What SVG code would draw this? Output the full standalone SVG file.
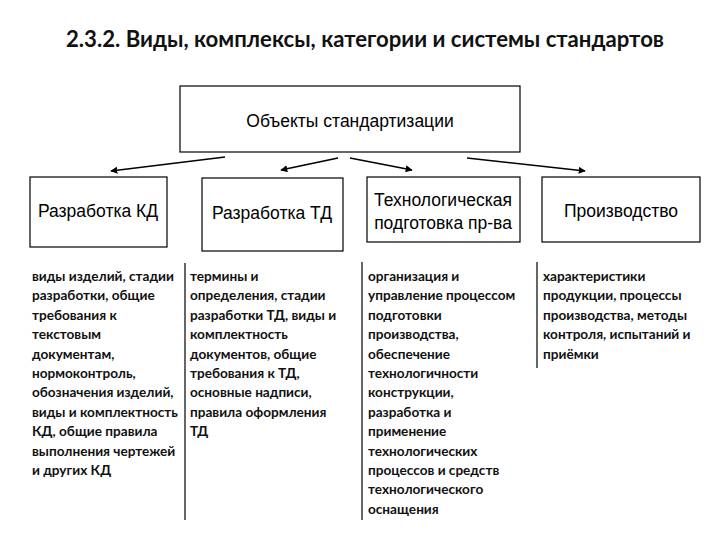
<svg xmlns="http://www.w3.org/2000/svg" width="720" height="540" viewBox="0 0 720 540">
<style>
.title{font-family:"Lato","Open Sans",sans-serif;font-weight:bold;font-size:22px;fill:#111}
.box{fill:#fff;stroke:#000;stroke-width:1.2}
.lbl{font-family:"Liberation Sans",Arial,sans-serif;font-size:17.5px;fill:#000;text-anchor:middle}
.col{font-family:"Lato","Open Sans",sans-serif;font-weight:bold;font-size:13.6px;fill:#111}
.conn{stroke:#000;stroke-width:1.6;fill:none;marker-end:url(#ah)}
.vl{stroke:#000;stroke-width:1.2}
</style>
<defs>
<marker id="ah" viewBox="0 0 10 10" refX="9" refY="5" markerWidth="7" markerHeight="7" markerUnits="userSpaceOnUse" orient="auto">
<path d="M0,0 L10,5 L0,10 Z" fill="#000"/>
</marker>
</defs>
<rect width="720" height="540" fill="#fff"/>
<text class="title" x="365" y="47" text-anchor="middle" textLength="598" lengthAdjust="spacingAndGlyphs">2.3.2. Виды, комплексы, категории и системы стандартов</text>

<g id="objects">
<rect class="box" x="180" y="86" width="340" height="66"/>
<text class="lbl" x="350" y="127">Объекты стандартизации</text>
</g>

<g id="connectors">
<line class="conn" x1="225" y1="157" x2="111" y2="171"/>
<line class="conn" x1="338" y1="158" x2="281" y2="170"/>
<line class="conn" x1="350" y1="158" x2="412" y2="170"/>
<line class="conn" x1="467" y1="158" x2="585" y2="171"/>
</g>

<g id="kd">
<rect class="box" x="30" y="177" width="137" height="70"/>
<text class="lbl" x="98" y="217">Разработка КД</text>
</g>
<g id="td">
<rect class="box" x="202" y="178" width="141" height="73"/>
<text class="lbl" x="272" y="219">Разработка ТД</text>
</g>
<g id="tech">
<rect class="box" x="367" y="177" width="153" height="65"/>
<text class="lbl" x="443" y="206">Технологическая</text>
<text class="lbl" x="443" y="229">подготовка пр-ва</text>
</g>
<g id="prod">
<rect class="box" x="542" y="177" width="158" height="65"/>
<text class="lbl" x="621" y="217">Производство</text>
</g>

<g id="dividers">
<line class="vl" x1="185" y1="263" x2="185" y2="520"/>
<line class="vl" x1="362" y1="262" x2="362" y2="520"/>
<line class="vl" x1="537" y1="262" x2="537" y2="368"/>
</g>

<g id="kd-text" class="col">
<text x="32" y="281">виды изделий, стадии</text>
<text x="32" y="300.4">разработки, общие</text>
<text x="32" y="319.8">требования к</text>
<text x="32" y="339.2">текстовым</text>
<text x="32" y="358.6">документам,</text>
<text x="32" y="378">нормоконтроль,</text>
<text x="32" y="397.4">обозначения изделий,</text>
<text x="32" y="416.8">виды и комплектность</text>
<text x="32" y="436.2">КД, общие правила</text>
<text x="32" y="455.6">выполнения чертежей</text>
<text x="32" y="475">и других КД</text>
</g>
<g id="td-text" class="col">
<text x="190" y="281">термины и</text>
<text x="190" y="300.4">определения, стадии</text>
<text x="190" y="319.8">разработки ТД, виды и</text>
<text x="190" y="339.2">комплектность</text>
<text x="190" y="358.6">документов, общие</text>
<text x="190" y="378">требования к ТД,</text>
<text x="190" y="397.4">основные надписи,</text>
<text x="190" y="416.8">правила оформления</text>
<text x="190" y="436.2">ТД</text>
</g>
<g id="tech-text" class="col">
<text x="368" y="281">организация и</text>
<text x="368" y="300.4">управление процессом</text>
<text x="368" y="319.8">подготовки</text>
<text x="368" y="339.2">производства,</text>
<text x="368" y="358.6">обеспечение</text>
<text x="368" y="378">технологичности</text>
<text x="368" y="397.4">конструкции,</text>
<text x="368" y="416.8">разработка и</text>
<text x="368" y="436.2">применение</text>
<text x="368" y="455.6">технологических</text>
<text x="368" y="475">процессов и средств</text>
<text x="368" y="494.4">технологического</text>
<text x="368" y="513.8">оснащения</text>
</g>
<g id="prod-text" class="col">
<text x="543" y="281">характеристики</text>
<text x="543" y="300.4">продукции, процессы</text>
<text x="543" y="319.8">производства, методы</text>
<text x="543" y="339.2">контроля, испытаний и</text>
<text x="543" y="358.6">приёмки</text>
</g>
</svg>
